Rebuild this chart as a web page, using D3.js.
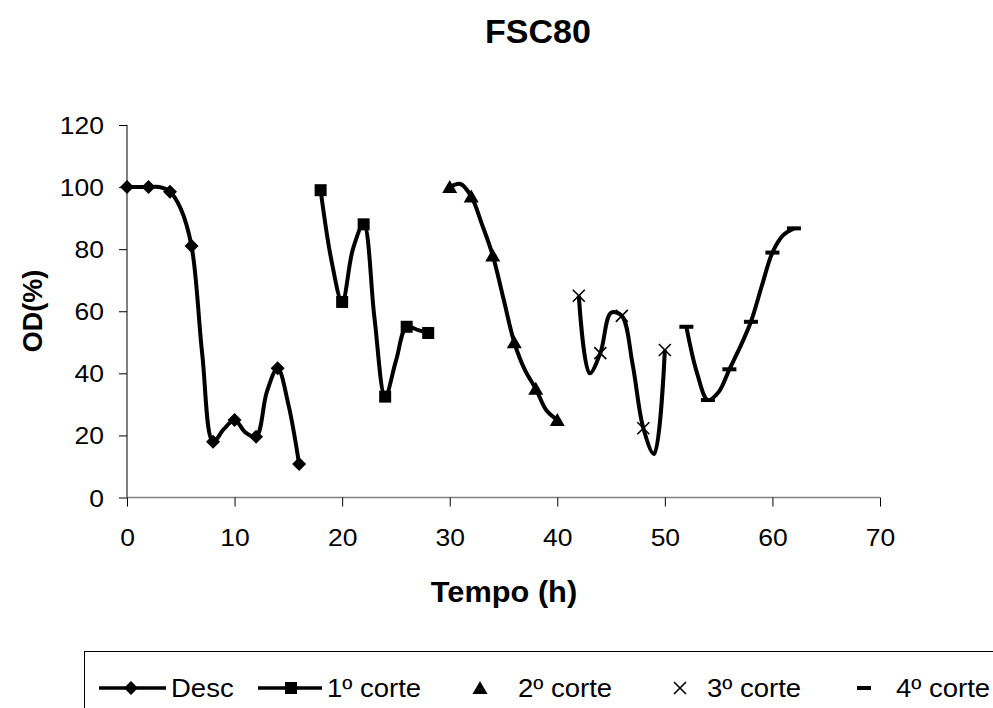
<!DOCTYPE html>
<html><head><meta charset="utf-8">
<script src="https://cdn.jsdelivr.net/npm/d3@7"></script>
<style>body{margin:0;background:#fff;} svg{display:block;} text{font-family:Arial,"Liberation Sans",sans-serif;fill:#000;}</style>
</head><body>
<svg id="c" width="993" height="708"></svg>
<script>
// ---- data ----
const title = "FSC80";
const xLabel = "Tempo (h)";
const yLabel = "OD(%)";
const xTicks = [0,10,20,30,40,50,60,70];
const yTicks = [0,20,40,60,80,100,120];
const seriesNames = ["Desc","1º corte","2º corte","3º corte","4º corte"];

// marker points (every 2 h)
const descT = [0,2,4,6,8,10,12,14,16];
const descV = [100,100,98.5,81,18,25,19.6,41.6,10.8];
const c1T = [18,20,22,24,26,28];
const c1V = [99,63,88,32.5,55,53];
const c2T = [30,32,34,36,38,40];
const c2V = [100,97,78,50,35,25];
const c3T = [42,44,46,48,50];
const c3V = [65,46.5,58.5,22.3,47.5];
const c4T = [52,54,56,58,60,62];
const c4V = [55,31.4,41.3,56.6,78.9,86.7];

// smoothed line points (hourly)
const descLineT = [0,1,2,3,4,5,6,7,8,9,10,11,12,13,14,15,16];
const descLineV = [100,100,100,100,98.5,93,81,46,18,22,25,21,19.6,34,41.6,30,10.8];
const c1LineT = [18,19,20,21,22,23,24,25,26,27,28];
const c1LineV = [99,76.5,63,80,88,58,32.5,44,55,54,53];
const c2LineT = [30,31,32,33,34,35,36,37,38,39,40];
const c2LineV = [100,101,97,88,78,64,50,41,35,28,25];
const c3LineT = [42,43,44,45,46,47,48,49,50];
const c3LineV = [65,40,46.5,59.5,58.5,43,22.3,14,47.5];
const c4LineT = [52,53,54,55,56,57,58,59,60,61,62];
const c4LineV = [55,40,31.4,34,41.3,48.5,56.6,68,78.9,84.5,86.7];

// ---- chart ----
const svg = d3.select("#c");
const x = d3.scaleLinear().domain([0,70]).range([127,880]);
const y = d3.scaleLinear().domain([0,120]).range([497.5,125]);
const FONT = "Arial, 'Liberation Sans', sans-serif";

function widen(sel, k){
  sel.each(function(){
    const w = this.getComputedTextLength();
    d3.select(this).attr("textLength", w*k).attr("lengthAdjust","spacingAndGlyphs");
  });
}

svg.append("text").attr("x",538).attr("y",43).attr("text-anchor","middle")
  .attr("font-size",34).attr("font-weight","bold").text(title);

// y axis
const ya = svg.append("g").attr("transform","translate(127,0)")
  .call(d3.axisLeft(y).tickValues(yTicks).tickSize(8).tickPadding(15).tickFormat(d3.format("d")));
ya.select(".domain").attr("stroke","#000").attr("d","M0,125V497.5");
ya.selectAll(".tick line").attr("stroke","#000");
ya.selectAll("text").attr("font-size",24.5).attr("font-family",FONT).attr("dy","0.35em");
widen(ya.selectAll("text"),1.08);

// x axis
const xa = svg.append("g").attr("transform","translate(0,497.5)")
  .call(d3.axisBottom(x).tickValues(xTicks).tickSize(9).tickPadding(22).tickFormat(d3.format("d")));
xa.select(".domain").attr("stroke","#808080").attr("stroke-width",1.5).attr("d","M127,0H880");
xa.selectAll(".tick line").attr("stroke","#000");
xa.selectAll("text").attr("font-size",24.5).attr("font-family",FONT);
widen(xa.selectAll("text"),1.08);

const xl = svg.append("text").attr("x",504).attr("y",602).attr("text-anchor","middle")
  .attr("font-size",29).attr("font-weight","bold").text(xLabel);
widen(xl,1.06);
svg.append("text").attr("transform","translate(42,311) rotate(-90)").attr("text-anchor","middle")
  .attr("font-size",27).attr("font-weight","bold").text(yLabel);

// lines
const line = d3.line().x(d=>x(d[0])).y(d=>y(d[1])).curve(d3.curveCatmullRom.alpha(0.5));
const lines = [[descLineT,descLineV],[c1LineT,c1LineV],[c2LineT,c2LineV],[c3LineT,c3LineV],[c4LineT,c4LineV]];
lines.forEach(([t,v])=>{
  svg.append("path").datum(d3.zip(t,v)).attr("d",line)
    .attr("fill","none").attr("stroke","#000").attr("stroke-width",4).attr("stroke-linejoin","round");
});

// marker shapes
const shapes = {
  diamond: g=>g.append("path").attr("d","M0,-7L7,0L0,7L-7,0Z").attr("fill","#000"),
  square: g=>g.append("rect").attr("x",-6).attr("y",-6).attr("width",12).attr("height",12).attr("fill","#000"),
  triangle: g=>g.append("path").attr("d","M0,-7L7.5,6L-7.5,6Z").attr("fill","#000"),
  cross: g=>g.append("path").attr("d","M-6,-6L6,6M-6,6L6,-6").attr("stroke","#000").attr("stroke-width",1.6).attr("fill","none"),
  dash: g=>g.append("rect").attr("x",-7).attr("y",-2).attr("width",14).attr("height",4).attr("fill","#000")
};
const markerSets = [[descT,descV,"diamond"],[c1T,c1V,"square"],[c2T,c2V,"triangle"],[c3T,c3V,"cross"],[c4T,c4V,"dash"]];
markerSets.forEach(([t,v,s])=>{
  d3.zip(t,v).forEach(d=>{
    const g = svg.append("g").attr("transform",`translate(${x(d[0])},${y(d[1])})`);
    shapes[s](g);
  });
});

// legend
svg.append("rect").attr("x",84.5).attr("y",651.5).attr("width",920).attr("height",80)
  .attr("fill","none").attr("stroke","#000").attr("stroke-width",1);
const legY = 688;
const legItems = [
  {name:seriesNames[0], shape:"diamond", line:[99,166], mk:131, tx:171},
  {name:seriesNames[1], shape:"square", line:[258,322], mk:291, tx:327},
  {name:seriesNames[2], shape:"triangle", line:null, mk:480, tx:518},
  {name:seriesNames[3], shape:"cross", line:null, mk:680, tx:707},
  {name:seriesNames[4], shape:"dash", line:null, mk:864, tx:896}
];
legItems.forEach(it=>{
  if(it.line) svg.append("line").attr("x1",it.line[0]).attr("x2",it.line[1]).attr("y1",legY).attr("y2",legY)
    .attr("stroke","#000").attr("stroke-width",3.5);
  const g = svg.append("g").attr("transform",`translate(${it.mk},${legY})`);
  shapes[it.shape](g);
  const t = svg.append("text").attr("x",it.tx).attr("y",legY).attr("dy","0.35em").attr("font-size",25).text(it.name);
  widen(t,1.1);
});
</script>
</body></html>
